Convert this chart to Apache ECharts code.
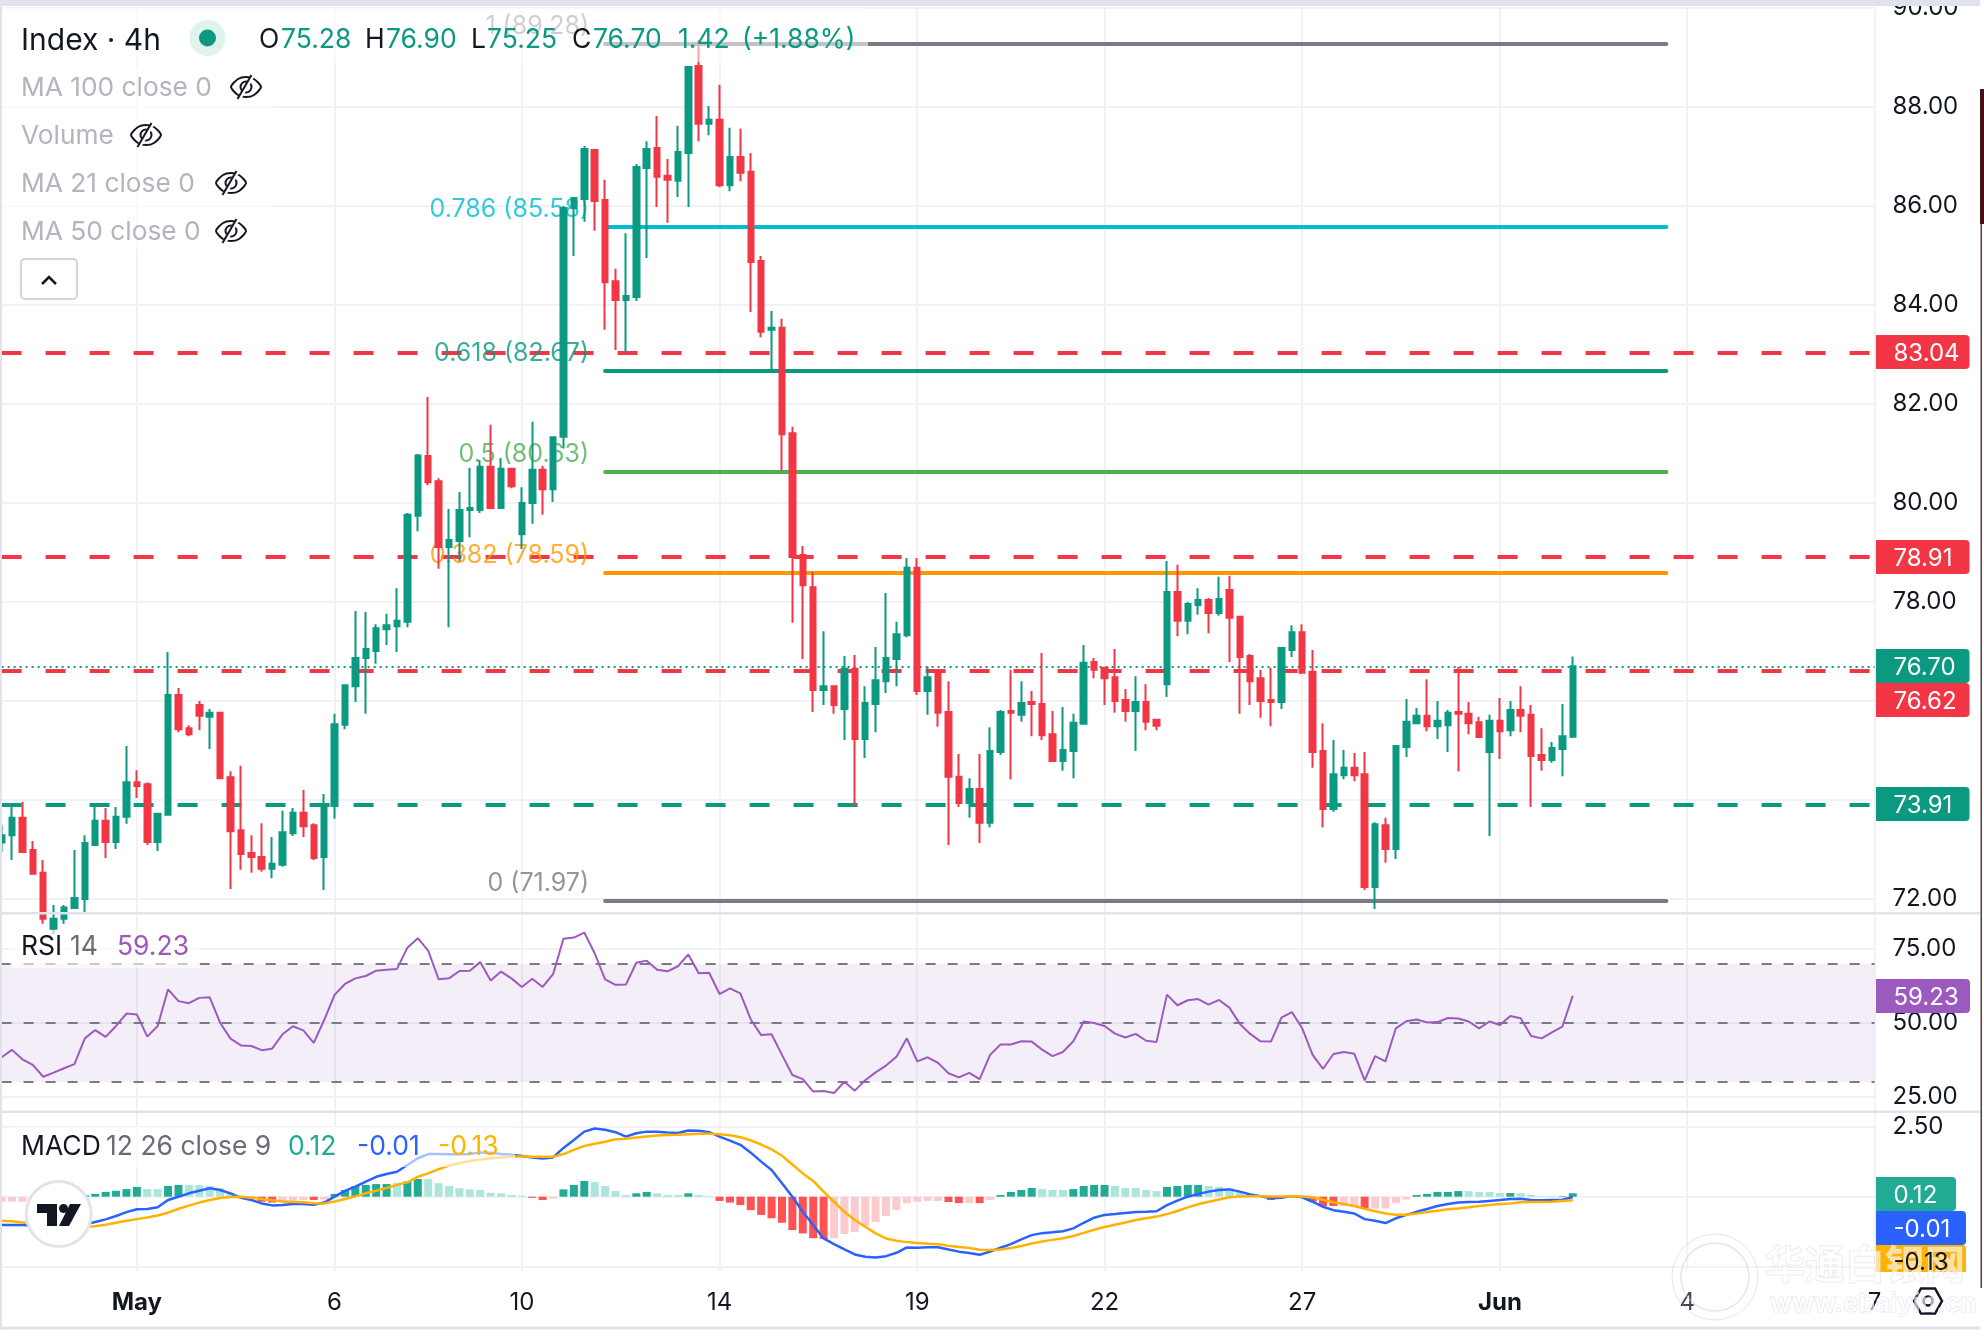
<!DOCTYPE html>
<html>
<head>
<meta charset="utf-8">
<title>Index 4h</title>
<script src="https://cdn.jsdelivr.net/npm/echarts@6/dist/echarts.min.js"></script>
<style>html,body{margin:0;padding:0;background:#fff}#chart{width:1984px;height:1338px}</style>
</head>
<body>
<div id="chart"></div>
<script>
// 4h candles, first bar number is -1 (partly scrolled off the left edge)
const firstBar = -1, lastBar = 179;

const opens = [73.14,
73.29,73.64,72.99,72.53,71.40,71.60,71.82,72.00,73.09,73.58,
73.15,73.66,74.36,74.32,73.15,73.70,76.12,75.45,75.92,75.68,
75.76,74.46,73.39,72.93,72.85,72.61,72.69,73.33,73.74,73.49,
72.85,73.88,75.52,76.30,76.87,77.01,77.45,77.51,77.60,79.74,
80.95,80.44,79.11,79.23,79.86,79.86,80.73,79.90,80.69,79.37,
80.00,80.67,80.28,81.34,85.96,86.14,87.13,86.12,84.48,84.10,
84.16,86.77,87.17,86.61,86.51,87.07,88.83,87.66,87.74,86.42,
86.99,86.69,84.89,83.50,83.54,81.41,78.95,78.30,76.22,76.30,
75.84,76.65,75.23,75.94,76.40,76.85,77.33,78.69,76.20,76.55,
75.78,74.47,73.94,74.22,73.54,74.97,75.80,75.72,75.98,75.94,
75.33,74.79,74.99,75.54,76.79,76.67,76.48,76.02,75.80,75.98,
75.62,76.34,78.20,77.62,77.94,78.04,77.78,78.24,77.70,76.91,
76.46,76.02,75.98,77.03,77.39,76.59,74.99,73.82,74.50,74.65,
74.52,72.24,73.49,73.01,75.07,75.55,75.70,75.49,75.51,75.78,
75.74,75.57,74.97,75.60,75.41,75.82,75.72,74.91,74.81,75.03,
75.28];

const closes = [73.29,
73.64,72.95,72.51,71.60,71.60,71.83,72.02,73.13,73.58,73.15,
73.66,74.36,74.28,73.15,73.72,76.12,75.43,75.33,75.70,75.76,
74.44,73.37,72.91,72.85,72.61,72.71,73.35,73.74,73.47,72.83,
73.90,75.53,76.32,76.87,77.05,77.47,77.53,77.62,79.76,80.96,
80.42,79.11,79.25,79.86,79.90,80.73,79.90,80.69,80.34,80.00,
80.67,80.28,81.33,85.96,86.16,87.15,86.10,84.46,84.10,84.18,
86.79,87.15,86.59,86.53,87.09,88.81,87.66,87.74,86.42,86.99,
86.67,84.87,83.46,83.54,81.39,78.91,78.34,76.22,76.30,75.92,
76.65,75.23,75.96,76.42,76.87,77.35,78.69,76.20,76.48,75.76,
74.47,73.94,74.22,73.54,74.99,75.78,75.76,75.96,75.94,75.31,
74.79,75.01,75.56,76.77,76.63,76.46,76.00,75.80,75.98,75.58,
75.50,78.20,77.62,77.96,78.04,77.78,78.06,77.68,76.89,76.40,
76.00,75.98,77.07,77.39,76.57,74.97,73.82,74.52,74.65,74.50,
72.24,73.51,73.01,75.09,75.58,75.70,75.49,75.60,75.76,75.74,
75.55,75.27,75.60,75.39,75.82,75.70,74.89,74.81,75.05,75.29,
76.70];

const lows = [72.95,
72.79,72.95,72.49,71.50,71.30,71.50,71.80,71.70,73.07,72.83,
73.01,73.52,74.04,73.09,72.97,73.70,75.37,75.29,75.41,75.03,
74.44,72.20,72.59,72.53,72.55,72.42,72.65,73.27,73.25,72.79,
72.18,73.62,75.43,75.98,75.74,76.75,77.13,76.99,77.49,79.43,
80.36,78.67,77.49,78.83,79.31,79.80,79.90,79.88,80.30,79.07,
79.58,79.76,80.02,81.10,84.99,85.68,85.50,83.50,83.09,83.05,
84.08,84.95,85.98,85.66,86.18,85.98,87.31,87.43,86.38,86.30,
86.50,83.86,83.35,82.69,80.65,77.58,76.85,75.78,75.92,75.74,
75.21,73.88,74.85,75.37,76.16,76.30,77.29,76.12,75.72,75.48,
73.09,73.86,73.64,73.13,73.45,74.91,74.42,75.58,75.29,75.21,
74.77,74.59,74.44,75.54,76.46,75.92,75.76,75.58,74.99,75.41,
75.41,76.08,77.31,77.35,77.74,77.37,77.72,76.79,75.74,75.92,
75.66,75.49,75.84,76.89,76.55,74.65,73.45,73.76,74.42,74.38,
72.18,71.80,72.73,72.81,74.87,75.55,75.39,75.23,74.97,74.58,
75.33,75.25,73.27,74.83,75.29,75.37,73.86,74.59,74.75,74.48,
75.25];

const highs = [73.50,
73.88,73.96,73.17,72.79,71.88,71.88,72.99,73.29,73.88,73.84,
73.86,75.09,74.60,74.36,73.74,76.99,76.26,75.51,76.00,75.84,
75.78,74.58,74.69,73.29,73.53,73.25,73.78,73.84,74.20,73.53,
74.12,75.74,76.34,77.82,77.80,77.55,77.76,78.28,79.80,80.99,
82.14,80.50,79.88,80.22,80.71,80.87,81.58,80.91,80.71,80.32,
81.64,80.75,81.35,86.00,86.18,87.21,87.13,86.53,84.73,85.45,
86.85,87.31,87.82,86.95,87.62,88.83,89.35,88.02,88.45,87.58,
87.56,87.07,84.99,83.88,83.72,81.54,79.13,78.61,77.41,76.30,
76.91,76.93,76.30,77.09,78.18,77.60,78.89,78.89,76.69,76.57,
76.40,74.93,74.44,74.93,75.47,75.82,76.63,76.40,76.20,76.97,
75.80,75.88,75.74,77.13,76.87,76.69,77.05,76.24,76.50,76.34,
75.62,78.83,78.75,78.00,78.28,78.08,78.51,78.53,77.70,76.95,
76.63,76.67,77.07,77.53,77.55,77.03,75.55,75.21,75.01,74.95,
74.97,73.55,73.64,75.09,76.04,75.86,76.44,76.00,75.82,76.69,
75.98,75.68,75.72,76.06,76.00,76.30,75.92,75.45,75.17,75.94,
76.90];

const rsiValues = [38.4,
40.9,37.7,35.8,31.8,33.2,34.7,36.1,44.8,47.6,45.3,
49.0,53.2,52.9,45.4,49.0,61.4,57.4,56.7,58.5,58.7,
50.1,44.7,42.4,42.2,40.8,41.3,46.2,48.9,47.5,43.3,
51.0,59.5,63.2,65.1,65.9,67.7,68.0,68.3,75.5,78.7,
74.5,64.8,65.1,67.6,67.7,70.6,64.4,67.4,65.1,62.2,
65.0,62.2,66.5,78.5,78.9,80.6,73.6,64.8,62.9,63.0,
70.4,71.1,68.0,67.5,69.2,73.2,66.8,67.0,59.8,61.7,
60.0,51.2,45.9,46.2,39.2,32.4,31.0,26.8,27.0,26.3,
30.1,27.1,30.6,33.3,35.6,38.6,44.8,37.0,38.4,36.5,
33.0,31.6,33.1,31.0,39.2,42.7,42.7,43.8,43.7,41.0,
38.8,40.2,43.8,50.5,50.0,49.0,46.4,45.1,46.3,44.0,
43.6,59.6,56.0,57.7,58.1,56.2,57.8,55.2,49.7,46.3,
43.8,43.7,51.8,53.7,48.2,39.2,34.5,39.5,40.2,39.6,
30.6,38.8,37.0,48.2,50.6,51.2,50.2,50.3,51.7,51.5,
50.5,48.2,50.5,49.3,52.4,51.6,45.6,44.8,46.8,48.8,
59.23];

const macdLine = [-1.01,
-1.01,-1.01,-1.04,-1.05,-1.05,-1.04,-1.01,-.98,-.90,-.81,
-.69,-.55,-.45,-.44,-.38,-.12,0,.12,.21,.30,
.24,.12,-.04,-.12,-.24,-.31,-.30,-.26,-.26,-.29,
-.21,0,.21,.36,.54,.71,.81,.89,1.13,1.37,
1.52,1.52,1.51,1.51,1.52,1.58,1.57,1.52,1.50,1.45,
1.40,1.36,1.40,1.74,2.02,2.32,2.43,2.39,2.30,2.14,
2.26,2.32,2.32,2.29,2.27,2.36,2.35,2.30,2.14,2.00,
1.85,1.57,1.25,.95,.48,0,-.54,-1.01,-1.49,-1.69,
-1.88,-2.06,-2.14,-2.17,-2.12,-2.00,-1.81,-1.82,-1.80,-1.80,
-1.88,-1.96,-2.01,-2.07,-1.96,-1.82,-1.69,-1.52,-1.37,-1.30,
-1.27,-1.23,-1.13,-.93,-.75,-.65,-.62,-.58,-.55,-.54,
-.52,-.30,-.14,0,.10,.18,.24,.26,.18,.08,
.02,-.06,-.04,.02,-.02,-.18,-.36,-.48,-.54,-.60,
-.80,-.86,-.94,-.77,-.65,-.54,-.44,-.33,-.26,-.21,
-.19,-.18,-.15,-.12,-.08,-.07,-.12,-.13,-.12,-.11,
-.01];

const macdSignal = [-.86,
-.88,-.92,-.95,-.99,-1.02,-1.05,-1.07,-1.07,-1.05,-1.00,
-.93,-.86,-.80,-.74,-.67,-.57,-.43,-.32,-.21,-.12,
-.05,-.01,0,-.04,-.08,-.13,-.17,-.19,-.20,-.23,
-.24,-.17,-.08,.01,.12,.21,.31,.42,.51,.71,
.83,.98,1.11,1.20,1.27,1.33,1.37,1.40,1.43,1.43,
1.42,1.42,1.42,1.52,1.67,1.81,1.89,1.96,2.05,2.07,
2.11,2.15,2.18,2.20,2.21,2.23,2.24,2.24,2.23,2.19,
2.12,2.01,1.86,1.69,1.46,1.15,.83,.56,.18,-.18,
-.54,-.83,-1.07,-1.31,-1.49,-1.57,-1.62,-1.65,-1.68,-1.70,
-1.75,-1.79,-1.83,-1.89,-1.90,-1.88,-1.83,-1.76,-1.67,-1.60,
-1.54,-1.48,-1.40,-1.29,-1.18,-1.08,-1.00,-.92,-.83,-.77,
-.71,-.62,-.51,-.38,-.27,-.18,-.10,-.02,.01,.02,
.02,.01,.01,.02,.01,-.02,-.11,-.20,-.26,-.33,
-.43,-.52,-.60,-.64,-.64,-.60,-.55,-.50,-.45,-.42,
-.38,-.33,-.30,-.26,-.24,-.20,-.19,-.19,-.18,-.15,
-.13];

const macdHist = [-.18,
-.18,-.18,-.12,-.08,-.02,.02,.04,.06,.10,.17,
.21,.27,.35,.27,.27,.38,.42,.42,.42,.38,
.30,.14,-.04,-.07,-.18,-.21,-.18,-.18,-.12,-.12,
-.10,.10,.24,.38,.42,.45,.45,.50,.54,.63,
.63,.48,.38,.30,.26,.24,.14,.12,.06,.04,
-.04,-.12,-.07,.26,.42,.56,.52,.38,.20,.06,
.12,.17,.12,.06,.06,.12,.06,.02,-.15,-.21,
-.30,-.48,-.65,-.77,-.93,-1.19,-1.31,-1.48,-1.51,-1.48,
-1.33,-1.26,-1.05,-.90,-.69,-.48,-.23,-.18,-.15,-.15,
-.19,-.23,-.23,-.23,-.12,.06,.17,.24,.31,.27,
.24,.24,.27,.38,.42,.42,.38,.31,.31,.24,
.20,.35,.38,.42,.42,.38,.35,.31,.18,.06,
-.02,-.12,-.05,.01,.01,-.18,-.33,-.33,-.33,-.33,
-.42,-.42,-.42,-.23,-.10,.06,.10,.17,.17,.20,
.20,.17,.17,.13,.13,.13,.06,.02,.02,.02,
.12];

// 1 marks a histogram bar drawn in the faded tone
const macdFaded = [1,
1,1,1,1,1,0,0,0,0,0,
0,0,0,1,1,0,0,1,1,1,
1,1,1,0,0,0,1,1,1,0,
1,0,0,0,0,0,0,1,0,0,
1,1,1,1,1,1,1,1,1,1,
0,0,1,0,0,0,1,1,1,1,
0,0,1,1,1,0,1,1,0,0,
0,0,0,0,0,0,0,0,0,1,
1,1,1,1,1,1,1,1,1,1,
0,0,1,0,1,0,0,0,0,1,
1,1,0,0,0,0,1,1,1,1,
1,0,0,0,0,1,1,1,1,1,
1,0,1,1,1,0,0,0,1,1,
0,1,1,1,1,0,0,0,0,0,
1,1,1,1,0,1,1,1,1,0,
0];

const tickBars = [12, 31, 49, 68, 87, 105, 124, 143, 161, 179];
const tickTexts = ['May', '6', '10', '14', '19', '22', '27', 'Jun', '4', '7'];

const priceTicks = [72, 74, 76, 78, 80, 82, 84, 86, 88, 90];
const rsiTicks = [25, 50, 75];
const macdTicks = [-2.5, 0, 2.5];
const macdTickLabels = [2.5];

const fibLevels = [89.28, 85.58, 82.67, 80.63, 78.59, 71.97];
const fibRatios = ['1', '0.786', '0.618', '0.5', '0.382', '0'];
const fibColors = ['#787b86', '#00bcd4', '#089981', '#4caf50', '#ff9800', '#787b86'];
const fibStartBar = 57, fibEndBar = 159;

const resistanceLevels = [83.04, 78.91, 76.62];
const supportLevels = [73.91];
const lastPrice = 76.70;
const rsiBands = [70, 50, 30];

const UP = '#0b9981', DOWN = '#f23645', GRID = '#f1f2f5', INK = '#131722', FONT = 'Inter';

const categories = [];
for (let b = firstBar; b <= lastBar; b++) categories.push(String(b));
const candleData = opens.map((o, k) => [o, closes[k], lows[k], highs[k]]);

const chart = echarts.init(document.getElementById('chart'), null, { renderer: 'canvas', width: 1984, height: 1338 });

const plotLeft = 1.6, plotWidth = 1872.9;
const grids = [
  { left: plotLeft, width: plotWidth, top: 8, height: 904, outerBoundsMode: 'none' },
  { left: plotLeft, width: plotWidth, top: 912, height: 200, outerBoundsMode: 'none' },
  { left: plotLeft, width: plotWidth, top: 1112, height: 159, outerBoundsMode: 'none' }
];

const isTickBar = (idx) => tickBars.includes(idx + firstBar);
const xAxes = grids.map((g, n) => ({
  type: 'category', gridIndex: n, data: categories, boundaryGap: false,
  axisLine: { show: false }, axisTick: { show: false },
  splitLine: { show: true, interval: isTickBar, lineStyle: { color: GRID, width: 2 } },
  axisLabel: n < 2 ? { show: false } : {
    show: true, interval: isTickBar, margin: 20, fontFamily: FONT, fontSize: 24, color: INK,
    showMaxLabel: true,
    formatter: (v) => {
      const t = tickTexts[tickBars.indexOf(Number(v))];
      return (t === 'May' || t === 'Jun') ? '{b|' + t + '}' : (t || '');
    },
    rich: { b: { fontFamily: FONT, fontSize: 24, fontWeight: 700, color: INK } }
  }
}));

const valueAxis = (n, min, max, ticks, labels, digits) => ({
  type: 'value', gridIndex: n, position: 'right', min, max, scale: true,
  axisLine: { show: true, lineStyle: { color: GRID, width: 2 } },
  axisTick: { show: false, customValues: ticks },
  splitLine: { show: true, lineStyle: { color: GRID, width: 2 } },
  axisLabel: {
    customValues: labels, margin: 18, fontFamily: FONT, fontSize: 24, color: INK, padding: [4, 0, 0, 0],
    formatter: (v) => v.toFixed(digits), hideOverlap: false
  }
});

const fullLine = (v, color, width, type) => ({ yAxis: v, lineStyle: { color, width, type } });

const option = {
  animation: false,
  backgroundColor: '#ffffff',
  grid: grids,
  xAxis: xAxes,
  yAxis: [
    valueAxis(0, 71.737, 90, priceTicks, priceTicks, 2),
    valueAxis(1, 19.88, 87.56, rsiTicks, rsiTicks, 2),
    valueAxis(2, -2.65, 3.02, macdTicks, macdTickLabels, 2)
  ],
  series: [
    {
      type: 'candlestick', name: 'Index', xAxisIndex: 0, yAxisIndex: 0, z: 3,
      data: candleData, barWidth: 6, clip: true,
      itemStyle: { color: UP, color0: DOWN, borderColor: UP, borderColor0: DOWN, borderWidth: 2 },
      markLine: {
        silent: true, symbol: 'none', z: 1, animation: false, label: { show: false },
        data: [
          ...resistanceLevels.map(v => fullLine(v, DOWN, 4, [20, 24])),
          ...supportLevels.map(v => fullLine(v, UP, 4, [20, 24])),
          fullLine(lastPrice, UP, 2, [2, 4]),
          ...fibLevels.map((v, k) => [
            { xAxis: String(fibStartBar), yAxis: v, lineStyle: { color: fibColors[k], width: 4, type: 'solid', cap: 'round' } },
            { xAxis: String(fibEndBar), yAxis: v }
          ])
        ]
      }
    },
    {
      type: 'scatter', name: 'Fib labels', xAxisIndex: 0, yAxisIndex: 0, z: 1, symbolSize: 0, silent: true,
      data: fibLevels.map((v, k) => ({
        value: [String(fibStartBar), v],
        label: {
          show: true, position: 'left', offset: [-11, -17], distance: 5,
          formatter: fibRatios[k] + ' (' + v.toFixed(2) + ')',
          color: fibColors[k], fontFamily: FONT, fontSize: 25
        }
      }))
    },
    {
      type: 'line', name: 'RSI', xAxisIndex: 1, yAxisIndex: 1, z: 3, data: rsiValues,
      symbol: 'none', showSymbol: false, lineStyle: { color: '#9c5abe', width: 2 },
      markArea: {
        silent: true, z: 1, label: { show: false },
        itemStyle: { color: 'rgba(150,90,200,0.1)' },
        data: [[{ yAxis: rsiBands[0] }, { yAxis: rsiBands[2] }]]
      },
      markLine: {
        silent: true, symbol: 'none', z: 2, label: { show: false },
        data: rsiBands.map(v => fullLine(v, '#787b86', 2, [10, 12]))
      }
    },
    {
      type: 'bar', name: 'Histogram', xAxisIndex: 2, yAxisIndex: 2, z: 2, barWidth: 8,
      data: macdHist.map((v, k) => ({
        value: v,
        itemStyle: { color: v >= 0 ? (macdFaded[k] ? '#ace5dc' : '#22ab94') : (macdFaded[k] ? '#fccbcd' : '#ff5252') }
      }))
    },
    {
      type: 'line', name: 'MACD', xAxisIndex: 2, yAxisIndex: 2, z: 3, data: macdLine,
      symbol: 'none', showSymbol: false, lineStyle: { color: '#2962ff', width: 2.5 }
    },
    {
      type: 'line', name: 'Signal', xAxisIndex: 2, yAxisIndex: 2, z: 4, data: macdSignal,
      symbol: 'none', showSymbol: false, lineStyle: { color: '#ffb300', width: 2.5 }
    }
  ],
  graphic: { elements: buildOverlay() }
};

function buildOverlay() {
  const els = [];
  const Z = 100;
  const rect = (x, y, w, h, fill, r, z) => els.push({ type: 'rect', silent: true, z: z || Z, shape: { x, y, width: w, height: h, r: r || 0 }, style: { fill } });
  const text = (x, y, s, fill, size, weight, align, z) => els.push({
    type: 'text', silent: true, z: z || Z + 2, x, y,
    style: { text: s, fill, font: (weight || 400) + ' ' + size + 'px ' + FONT, align: align || 'left', verticalAlign: 'middle' }
  });

  // frame around the panes
  rect(0, 0, 1980, 6, '#e0e3eb');
  rect(0, 0, 2, 1330, '#e0e3eb');
  rect(0, 912, 1980, 2.5, '#e0e3eb');
  rect(0, 1110.5, 1980, 2.5, '#e0e3eb');
  rect(0, 1326.5, 1980, 3, '#e0e3eb');
  rect(1980.5, 224, 1.5, 1064, '#5b3a3c');
  rect(1980, 89, 4, 135, '#451016');

  // translucent legend backings
  rect(2, 8, 866, 54, 'rgba(255,255,255,0.55)');
  rect(2, 66, 272, 184, 'rgba(255,255,255,0.6)');
  rect(10, 930, 190, 38, 'rgba(255,255,255,0.6)');
  rect(10, 1127, 505, 40, 'rgba(255,255,255,0.6)');

  // headline
  text(21, 41, 'Index · 4h', INK, 30);
  els.push({ type: 'circle', silent: true, z: Z + 1, shape: { cx: 207.5, cy: 38, r: 18 }, style: { fill: '#dff3ef' } });
  els.push({ type: 'circle', silent: true, z: Z + 1, shape: { cx: 207.5, cy: 38, r: 8.5 }, style: { fill: UP } });
  [[259, 'O', INK], [281, '75.28', UP], [365, 'H', INK], [386, '76.90', UP], [471, 'L', INK], [487, '75.25', UP],
   [572, 'C', INK], [593, '76.70', UP], [678, '1.42', UP], [742, '(+1.88%)', UP]]
    .forEach(([x, s, c]) => text(x, 40.5, s, c, 26.5));

  // hidden indicator rows and their crossed-eye icons
  const eye = (cx, cy) => {
    els.push({
      type: 'group', silent: true, x: cx - 16, y: cy - 13,
      children: [
        { type: 'polygon', z: Z + 1, shape: { points: [[1, 13], [8, 5], [16, 3], [24, 5], [31, 13], [24, 21], [16, 23], [8, 21]], smooth: 0.25 }, style: { fill: 'none', stroke: INK, lineWidth: 2 } },
        { type: 'circle', z: Z + 1, shape: { cx: 16, cy: 13, r: 5.5 }, style: { fill: 'none', stroke: INK, lineWidth: 2 } },
        { type: 'line', z: Z + 2, shape: { x1: 9, y1: 25, x2: 23, y2: 1 }, style: { stroke: '#ffffff', lineWidth: 4 } },
        { type: 'line', z: Z + 3, shape: { x1: 7.5, y1: 25, x2: 21.5, y2: 1 }, style: { stroke: INK, lineWidth: 2 } }
      ]
    });
  };
  [[87, 'MA 100 close 0', 246], [135, 'Volume', 146], [183, 'MA 21 close 0', 231], [231, 'MA 50 close 0', 231]]
    .forEach(([y, s, ex]) => { text(21, y + 1, s, '#b2b5be', 26.3); eye(ex, y); });

  // collapse button
  els.push({ type: 'rect', silent: true, z: Z + 1, shape: { x: 21, y: 259, width: 56, height: 40, r: 4 }, style: { fill: '#ffffff', stroke: '#d1d4dc', lineWidth: 2 } });
  els.push({ type: 'polyline', silent: true, z: Z + 2, shape: { points: [[42, 284], [49, 277], [56, 284]] }, style: { fill: 'none', stroke: INK, lineWidth: 2.5 } });

  // pane legends
  text(21, 947.5, 'RSI', INK, 26.5);
  text(70, 947.5, '14', '#6a6d78', 26.5);
  text(117, 947.5, '59.23', '#9c5abe', 26.5);
  text(21, 1147, 'MACD', INK, 26.5);
  text(106, 1147, '12 26 close 9', '#6a6d78', 26.5);
  text(288, 1147, '0.12', '#22ab94', 26.5);
  text(357, 1147, '-0.01', '#2962ff', 26.5);
  text(438, 1147, '-0.13', '#ffb300', 26.5);

  // price tags on the value scale
  const tag = (y0, y1, right, fill, s, ink, r) => {
    els.push({ type: 'rect', silent: true, z: Z + 3, shape: { x: 1876, y: y0, width: right - 1876, height: y1 - y0, r: r === undefined ? [0, 4, 4, 0] : r }, style: { fill } });
    text(1893.5, (y0 + y1) / 2 + 1.5, s, ink || '#ffffff', 24, 400, 'left', Z + 4);
  };
  tag(335, 369, 1969.5, DOWN, '83.04');
  tag(540, 574, 1969.5, DOWN, '78.91');
  tag(649, 683, 1969.5, UP, '76.70');
  tag(683, 717, 1969.5, DOWN, '76.62');
  tag(787, 821, 1969.5, UP, '73.91');
  tag(979, 1013, 1970, '#9c5abe', '59.23');
  tag(1177, 1211, 1956, '#22ab94', '0.12');
  tag(1211, 1245, 1966, '#2962ff', '-0.01');
  els.push({ type: 'rect', silent: true, z: Z + 3, shape: { x: 1876, y: 1245, width: 90, height: 27, r: [0, 4, 0, 0] }, style: { fill: '#ffb300' } });
  text(1893.5, 1263, '-0.13', INK, 24, 400, 'left', Z + 9);

  // TradingView badge
  els.push({ type: 'circle', silent: true, z: Z + 5, shape: { cx: 58.7, cy: 1214, r: 32.5 }, style: { fill: '#ffffff', stroke: '#e0e3eb', lineWidth: 3 } });
  els.push({ type: 'polygon', silent: true, z: Z + 6, shape: { points: [[37, 1204], [57, 1204], [57, 1226], [47, 1226], [47, 1213], [37, 1213]] }, style: { fill: INK } });
  els.push({ type: 'circle', silent: true, z: Z + 6, shape: { cx: 63.5, cy: 1208.5, r: 4.5 }, style: { fill: INK } });
  els.push({ type: 'polygon', silent: true, z: Z + 6, shape: { points: [[70, 1204], [81, 1204], [69, 1226], [59, 1226]] }, style: { fill: INK } });

  // settings hexagon
  els.push({ type: 'polygon', silent: true, z: Z + 6, shape: { points: [[1914, 1301], [1921, 1288.5], [1935, 1288.5], [1942, 1301], [1935, 1313.5], [1921, 1313.5]] }, style: { fill: '#ffffff', stroke: INK, lineWidth: 2.5 } });
  els.push({ type: 'circle', silent: true, z: Z + 7, shape: { cx: 1928, cy: 1301, r: 4.5 }, style: { fill: 'none', stroke: INK, lineWidth: 2.5 } });

  // site watermark
  const wmStroke = 'rgba(205,208,222,0.55)';
  els.push({ type: 'circle', silent: true, z: Z + 8, shape: { cx: 1715, cy: 1277, r: 43 }, style: { fill: 'rgba(255,255,255,0.2)', stroke: wmStroke, lineWidth: 1 } });
  els.push({ type: 'circle', silent: true, z: Z + 8, shape: { cx: 1715, cy: 1277, r: 34 }, style: { fill: 'none', stroke: wmStroke, lineWidth: 1.5 } });
  els.push({ type: 'text', silent: true, z: Z + 8, x: 1765, y: 1264, style: { text: '华通白银网', font: '700 40px "Noto Sans CJK SC"', fill: 'rgba(255,255,255,0.6)', stroke: wmStroke, lineWidth: 1, verticalAlign: 'middle' } });
  els.push({ type: 'text', silent: true, z: Z + 8, x: 1770, y: 1304, style: { text: 'www.ebaiyin.cn', font: '700 26px ' + FONT, fill: 'rgba(255,255,255,0.6)', stroke: wmStroke, lineWidth: 1, verticalAlign: 'middle' } });

  return els;
}

chart.setOption(option);
</script>
</body>
</html>
